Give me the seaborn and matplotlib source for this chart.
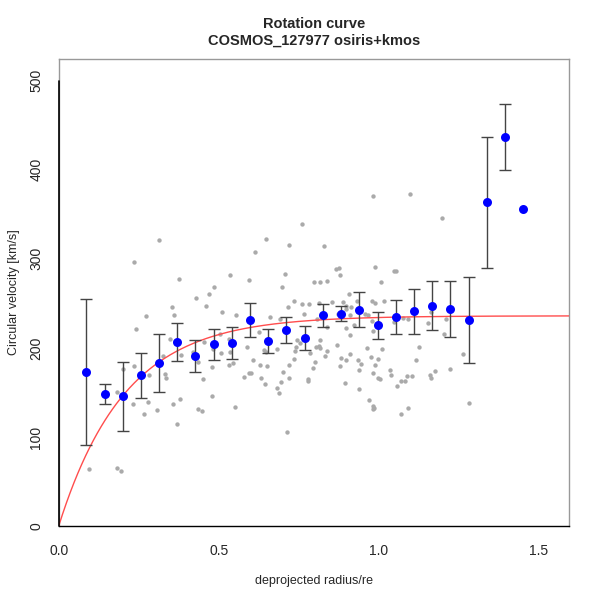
import numpy as np
import pandas as pd
import matplotlib
matplotlib.use("Agg")
import matplotlib.pyplot as plt
import seaborn as sns

# ---- data -------------------------------------------------------------
# individual spaxel measurements (grey)
pix_r = [0.236, 0.3125, 0.377, 0.428, 0.469, 0.484, 0.536, 0.595, 0.613, 0.648,
         0.697, 0.706, 0.721, 0.760, 0.799, 0.817, 0.8375, 0.830, 0.982, 1.099,
         1.199, 0.8675, 0.875, 0.878, 0.9875, 1.008, 1.048, 1.054, 0.906, 0.095,
         0.183, 0.194, 0.182, 0.201, 0.234, 0.2425, 0.274, 0.233, 0.2675, 0.281,
         0.280, 0.306, 0.326, 0.331, 0.335, 0.348, 0.354, 0.360, 0.357, 0.370,
         0.379, 0.381, 0.420, 0.435, 0.450, 0.434, 0.449, 0.453, 0.461, 0.478,
         0.479, 0.481, 0.503, 0.506, 0.510, 0.532, 0.535, 0.533, 0.544, 0.550,
         0.554, 0.580, 0.5875, 0.595, 0.602, 0.607, 0.629, 0.632, 0.626, 0.6425,
         0.645, 0.648, 0.652, 0.660, 0.681, 0.681, 0.6875, 0.691, 0.694, 0.702,
         0.714, 0.7165, 0.719, 0.721, 0.734, 0.734, 0.7375, 0.7415, 0.745, 0.754,
         0.761, 0.7675, 0.780, 0.782, 0.778, 0.784, 0.794, 0.802, 0.803, 0.807,
         0.8125, 0.813, 0.8175, 0.832, 0.839, 0.8375, 0.817, 0.853, 0.874, 0.889,
         0.897, 0.899, 0.909, 0.914, 0.922, 0.931, 0.910, 0.897, 0.871, 0.883,
         0.899, 0.909, 0.878, 0.894, 0.934, 0.944, 0.938, 0.939, 0.957, 0.9665,
         0.963, 0.969, 0.975, 0.979, 0.981, 0.981, 0.983, 0.985, 0.981, 0.979,
         0.988, 0.989, 0.999, 0.998, 1.004, 1.011, 1.016, 1.035, 1.0375, 1.047,
         1.058, 1.069, 1.082, 1.069, 1.076, 1.089, 1.091, 1.092, 1.104, 1.116,
         1.125, 1.155, 1.160, 1.163, 1.176, 1.1625, 1.203, 1.210, 1.222, 1.263,
         1.281]
pix_v = [296.1, 320.8, 277.0, 255.7, 260.2, 268.0, 281.8, 276.6, 307.3, 321.9,
         268.0, 283.0, 315.5, 339.1, 273.7, 274.3, 275.4, 314.7, 370.2, 372.5,
         345.9, 288.2, 290.0, 282.2, 290.8, 274.0, 286.7, 286.7, 260.9, 64.0,
         65.5, 62.1, 150.5, 176.3, 179.7, 221.5, 235.5, 137.0, 125.4, 169.2,
         139.6, 130.6, 190.6, 170.7, 166.5, 210.3, 245.6, 236.6, 137.3, 114.2,
         142.9, 191.7, 195.7, 184.5, 164.7, 131.4, 129.5, 206.6, 246.7, 145.6,
         178.9, 199.1, 215.3, 194.6, 240.0, 209.6, 195.4, 181.1, 183.0, 133.6,
         237.3, 167.0, 201.0, 171.8, 171.8, 186.1, 181.1, 166.5, 217.5, 197.6,
         159.8, 195.4, 180.0, 234.7, 198.8, 155.3, 149.0, 232.4, 161.7, 172.9,
         105.9, 245.6, 180.4, 166.5, 253.0, 187.9, 196.2, 201.3, 208.5, 205.2,
         249.3, 237.7, 165.1, 249.3, 162.8, 193.9, 177.8, 184.2, 201.0, 232.4,
         250.1, 202.5, 200.2, 190.9, 196.5, 223.8, 208.5, 251.2, 237.7, 251.5,
         243.3, 247.4, 236.9, 246.3, 225.7, 253.0, 214.1, 222.0, 203.2, 188.3,
         186.1, 193.1, 180.0, 160.9, 186.4, 181.9, 175.2, 154.2, 237.7, 237.3,
         200.2, 141.5, 189.4, 230.5, 219.0, 171.5, 134.7, 132.2, 131.7, 252.7,
         250.7, 180.4, 187.9, 166.2, 164.7, 198.4, 252.3, 175.2, 169.6, 229.4,
         157.5, 162.8, 162.8, 125.4, 233.9, 168.8, 132.2, 232.1, 168.8, 186.1,
         201.3, 227.6, 169.6, 166.5, 173.7, 240.0, 215.3, 232.4, 176.3, 193.5,
         138.5]

# binned rotation curve (blue) with symmetric errors
bin_r = [0.086, 0.144, 0.200, 0.256, 0.313, 0.370, 0.427, 0.484, 0.542, 0.598,
         0.655, 0.712, 0.769, 0.826, 0.882, 0.939, 0.997, 1.053, 1.110, 1.168,
         1.224, 1.281, 1.338, 1.395, 1.452]
bin_v = [172.9, 148.6, 145.6, 169.5, 182.7, 206.2, 190.9, 204.0, 205.5, 231.3,
         207.7, 220.0, 211.1, 236.6, 238.4, 242.9, 225.3, 235.0, 241.1, 247.4,
         243.7, 231.3, 363.5, 436.8, 356.0]
bin_err = [82.2, 11.4, 38.4, 25.3, 32.6, 21.2, 18.0, 17.6, 18.3, 19.3,
           13.9, 15.0, 13.8, 12.8, 8.5, 20.0, 14.8, 19.1, 25.5, 27.7,
           31.8, 48.1, 73.4, 37.6, np.nan]

# model fit: v(r) = vmax * (1 - exp(-r / rt))
vmax = 236.0
rt = 0.207

x_ticks = [0.0, 0.5, 1.0, 1.5]
x_tick_labels = ["0.0", "0.5", "1.0", "1.5"]
y_ticks = [0, 100, 200, 300, 400, 500]
y_tick_labels = ["0", "100", "200", "300", "400", "500"]

# ---- figure -----------------------------------------------------------
sns.set_style("white")
plt.rcParams["font.family"] = ["Liberation Sans", "DejaVu Sans"]

fig = plt.figure(figsize=(6, 6), dpi=100)
ax = fig.add_axes([58.7 / 600, 74 / 600, (569.3 - 58.7) / 600, (526 - 59) / 600])

pix = pd.DataFrame({"r": pix_r, "v": pix_v})
bins = pd.DataFrame({"r": bin_r, "v": bin_v, "err": bin_err})
r_model = np.linspace(0, 1.6, 400)
model = pd.DataFrame({"r": r_model, "v": vmax * (1 - np.exp(-r_model / rt))})

sns.scatterplot(data=pix, x="r", y="v", ax=ax, color="#aaaaaa", s=10,
                linewidth=0, zorder=2)
sns.lineplot(data=model, x="r", y="v", ax=ax, color="#ff4d4d", linewidth=1.0,
             zorder=3)
ax.errorbar(bins["r"], bins["v"], yerr=bins["err"], fmt="none",
            ecolor="#444444", elinewidth=1.0, capsize=4, capthick=1.0, zorder=4)
sns.scatterplot(data=bins, x="r", y="v", ax=ax, color="#0000ff", s=42,
                linewidth=0, zorder=5)

ax.set_xlim(0, 1.596)
ax.set_ylim(0, 524.4)
ax.set_xticks(x_ticks)
ax.set_xticklabels(x_tick_labels)
ax.set_yticks(y_ticks)
ax.set_yticklabels(y_tick_labels, rotation=90, va="center")

for s in ax.spines.values():
    s.set_color("#999999")
    s.set_linewidth(1.0)
ax.spines["bottom"].set_color("black")
# R-style axis line on the left spanning only the tick range
ax.plot([0, 0], [0, 500], color="black", linewidth=1.2, clip_on=False, zorder=6)

ax.tick_params(axis="both", direction="out", length=5, width=1, color="black",
               labelsize=10, pad=8)
ax.tick_params(axis="y", pad=6)

ax.set_xlabel("deprojected radius/re", fontsize=9, labelpad=12)
ax.set_ylabel("Circular velocity [km/s]", fontsize=9, labelpad=7)
ax.set_title("Rotation curve\nCOSMOS_127977 osiris+kmos", fontsize=10.5,
             fontweight="bold", pad=10, linespacing=1.3)

fig.savefig("out.png", dpi=100)
